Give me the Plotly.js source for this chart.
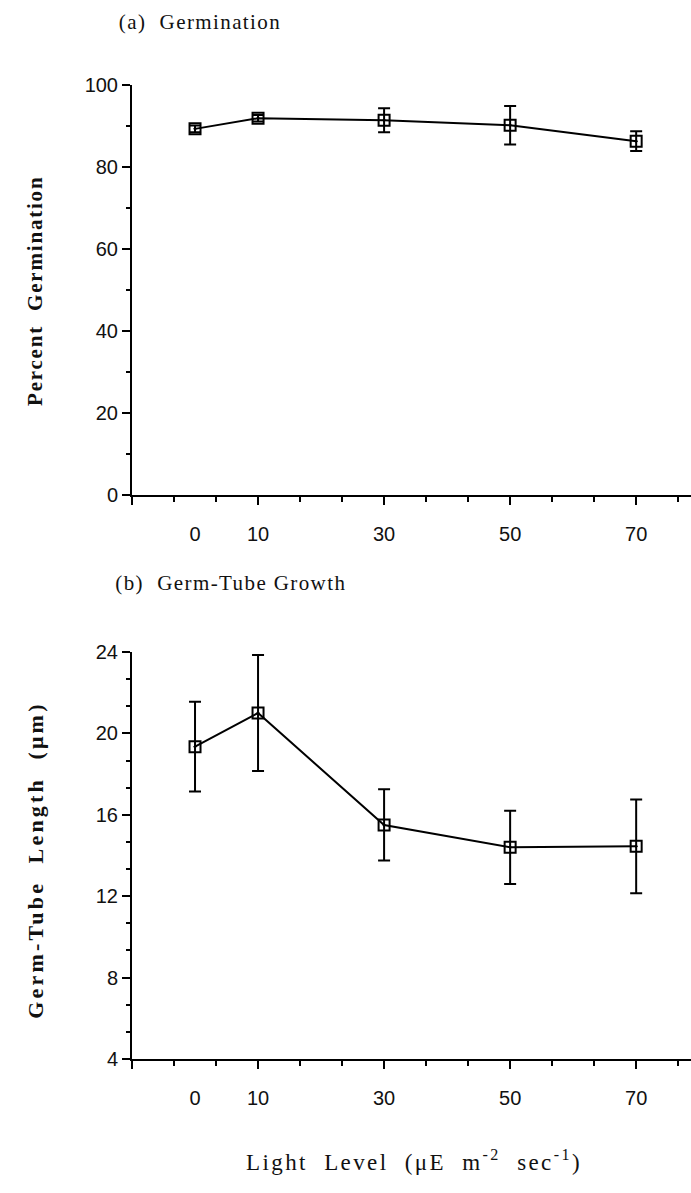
<!DOCTYPE html>
<html>
<head>
<meta charset="utf-8">
<script src="https://cdn.plot.ly/plotly-3.0.1.min.js"></script>
<style>
html, body { margin: 0; padding: 0; background: #fff; }
#chart { width: 691px; height: 1193px; }
</style>
</head>
<body>
<div id="chart"></div>
<script>
// ---- data ----
var lightLevels = [0, 10, 30, 50, 70];
var xTickLabels = ["0", "10", "30", "50", "70"];

var germPercent = [89.3, 91.9, 91.4, 90.2, 86.3];
var germErr     = [0.8, 0.8, 2.9, 4.7, 2.4];

var tubeLength  = [19.35, 21.0, 15.5, 14.4, 14.45];
var tubeErr     = [2.2, 2.85, 1.75, 1.8, 2.3];

var titleA = "(a)  Germination";
var titleB = "(b)  Germ-Tube Growth";
var yTitleA = "Percent  Germination";
var yTitleB = "Germ-Tube  Length  (μm)";
var xTitle = "Light  Level  (μE  m<sup>-2</sup>  sec<sup>-1</sup>)";

// ---- geometry helpers (pixel -> paper) ----
var W = 691, H = 1193;
function px(x) { return x / W; }
function py(y) { return 1 - y / H; }

var xRange = [-10, 78.7];
var tickFont = { family: "Liberation Sans, Arial, sans-serif", size: 20, color: "#111" };

function dataTrace(x, y, e, xa, ya) {
  return {
    type: "scatter", mode: "lines+markers", x: x, y: y, xaxis: xa, yaxis: ya,
    line: { color: "#000", width: 2 },
    marker: { symbol: "square-open-dot", size: 11, color: "#000", line: { color: "#000", width: 2 } },
    error_y: { type: "data", array: e, visible: true, color: "#000", thickness: 2, width: 6 },
    hoverinfo: "x+y", cliponaxis: false
  };
}
function ghost(x, y, xa, ya) {
  return { type: "scatter", mode: "markers", x: x, y: y, xaxis: xa, yaxis: ya,
    marker: { opacity: 0, size: 1 }, hoverinfo: "skip" };
}

var traces = [
  dataTrace(lightLevels, germPercent, germErr, "x", "y"),
  dataTrace(lightLevels, tubeLength, tubeErr, "x2", "y2"),
  ghost(lightLevels, germPercent, "x3", "y"),
  ghost(lightLevels, tubeLength, "x4", "y2")
];

function tickAxis() {
  return {
    domain: [px(132), 1], range: xRange, tickmode: "linear", tick0: -10, dtick: 20,
    ticks: "outside", ticklen: 8, tickwidth: 2, tickcolor: "#000",
    showticklabels: false, showline: true, linewidth: 2, linecolor: "#000",
    showgrid: false, zeroline: false, fixedrange: true,
    minor: { ticks: "outside", ticklen: 5, tickwidth: 2, tickcolor: "#000", tickmode: "linear", tick0: -10, dtick: 20 / 3, showgrid: false }
  };
}
function labelAxis(over, anchor) {
  return {
    overlaying: over, anchor: anchor, range: xRange, tickmode: "array",
    tickvals: lightLevels, ticktext: xTickLabels, tickfont: tickFont,
    ticks: "outside", ticklen: 21, tickcolor: "rgba(0,0,0,0)",
    showline: false, showgrid: false, zeroline: false, fixedrange: true
  };
}
function yAxis(dom, range, dtick, minorD) {
  return {
    domain: dom, range: range, tickmode: "linear", tick0: range[0], dtick: dtick,
    ticks: "outside", ticklen: 8, tickwidth: 2, tickcolor: "#000",
    tickfont: tickFont, showline: true, linewidth: 2, linecolor: "#000",
    showgrid: false, zeroline: false, fixedrange: true,
    minor: { ticks: "outside", ticklen: 4, tickwidth: 2, tickcolor: "#000", tickmode: "linear", tick0: range[0], dtick: minorD, showgrid: false }
  };
}

var xa = tickAxis(); xa.anchor = "y";
var xb = tickAxis(); xb.anchor = "y2";

var serif = "Liberation Serif, Times New Roman, serif";
var layout = {
  width: W, height: H,
  margin: { l: 0, r: 0, t: 0, b: 0 },
  paper_bgcolor: "#fff", plot_bgcolor: "#fff",
  showlegend: false,
  xaxis: xa,
  xaxis2: xb,
  xaxis3: labelAxis("x", "y"),
  xaxis4: labelAxis("x2", "y2"),
  yaxis: yAxis([py(495), py(85)], [0, 100], 20, 10),
  yaxis2: yAxis([py(1059), py(652)], [4, 24], 4, 4 / 3),
  annotations: [
    { text: titleA, xref: "paper", yref: "paper", x: px(128), y: py(22), xanchor: "left", yanchor: "middle", showarrow: false, font: { family: serif, size: 21, color: "#111" } },
    { text: titleB, xref: "paper", yref: "paper", x: px(128), y: py(583), xanchor: "left", yanchor: "middle", showarrow: false, font: { family: serif, size: 21, color: "#111" } },
    { text: "<b>" + yTitleA + "</b>", xref: "paper", yref: "paper", x: px(35), y: py(291), xanchor: "center", yanchor: "middle", textangle: -90, showarrow: false, font: { family: serif, size: 21, color: "#111" } },
    { text: "<b>" + yTitleB + "</b>", xref: "paper", yref: "paper", x: px(35), y: py(860), xanchor: "center", yanchor: "middle", textangle: -90, showarrow: false, font: { family: serif, size: 22, color: "#111" } },
    { text: xTitle, xref: "paper", yref: "paper", x: px(414), y: py(1160), xanchor: "center", yanchor: "middle", showarrow: false, font: { family: serif, size: 23, color: "#111" } }
  ]
};

Plotly.newPlot("chart", traces, layout, { staticPlot: true, displayModeBar: false }).then(function () {
  var spacing = [1.4, 1.4, 1.8, 3.2, 2.4];
  var anns = document.querySelectorAll(".annotation-text");
  anns.forEach(function (el, i) { el.style.letterSpacing = (spacing[i] || 1) + "px"; });
});
</script>
</body>
</html>
